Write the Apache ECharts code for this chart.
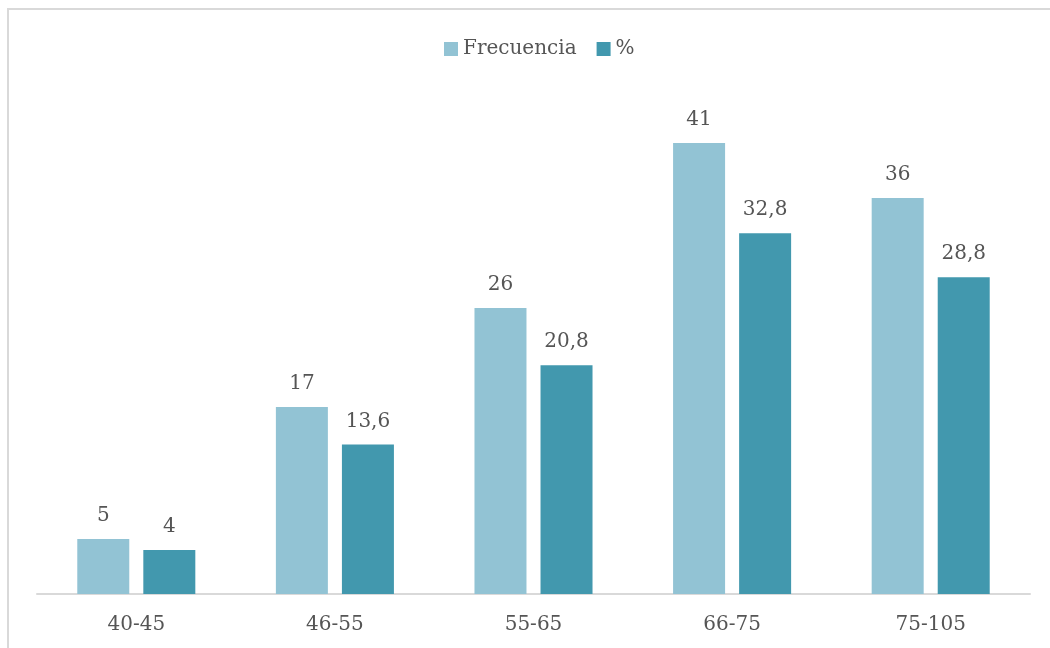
<!DOCTYPE html>
<html>
<head>
<meta charset="utf-8">
<script src="https://cdn.jsdelivr.net/npm/echarts@6/dist/echarts.min.js"></script>
<style>
  html, body { margin: 0; padding: 0; background: #ffffff; }
  #chart { width: 1050px; height: 648px; }
</style>
</head>
<body>
<div id="chart"></div>
<script>
// Age ranges and their counts / percentages
const categories = ['40-45', '46-55', '55-65', '66-75', '75-105'];
const frecuencia = [5, 17, 26, 41, 36];
const porcentaje = [4, 13.6, 20.8, 32.8, 28.8];
const seriesNames = ['Frecuencia', '%'];

const FONT = '"DejaVu Serif", serif';
const TEXT = '#555555';

const fmt = v => String(v).replace('.', ',');

const chart = echarts.init(document.getElementById('chart'));
chart.setOption({
  animation: false,
  textStyle: { fontFamily: FONT },
  graphic: [{
    type: 'rect',
    shape: { x: 8, y: 9, width: 1200, height: 800 },
    style: { fill: 'none', stroke: '#d9d9d9', lineWidth: 2 },
    silent: true
  }],
  legend: {
    top: 34,
    left: 439,
    itemWidth: 14,
    itemHeight: 14,
    itemGap: 20,
    icon: 'rect',
    textStyle: { fontFamily: FONT, fontSize: 20, color: TEXT },
    data: seriesNames
  },
  grid: { left: 37, right: 20, top: 99, bottom: 54 },
  xAxis: {
    type: 'category',
    data: categories,
    axisLine: { lineStyle: { color: '#d9d9d9', width: 2 } },
    axisTick: { show: false },
    axisLabel: { fontFamily: FONT, fontSize: 20, color: TEXT, margin: 21 }
  },
  yAxis: {
    type: 'value',
    min: 0,
    max: 45,
    interval: 5,
    show: false,
    splitLine: { show: false }
  },
  series: [
    {
      name: seriesNames[0],
      type: 'bar',
      data: frecuencia,
      barWidth: 52,
      barGap: '27%',
      itemStyle: { color: '#92c3d4' },
      label: {
        show: true, position: 'top', distance: 13,
        fontFamily: FONT, fontSize: 20, color: TEXT,
        formatter: p => fmt(p.value)
      }
    },
    {
      name: seriesNames[1],
      type: 'bar',
      data: porcentaje,
      barWidth: 52,
      itemStyle: { color: '#4298ae' },
      label: {
        show: true, position: 'top', distance: 13,
        fontFamily: FONT, fontSize: 20, color: TEXT,
        formatter: p => fmt(p.value)
      }
    }
  ]
});
</script>
</body>
</html>
